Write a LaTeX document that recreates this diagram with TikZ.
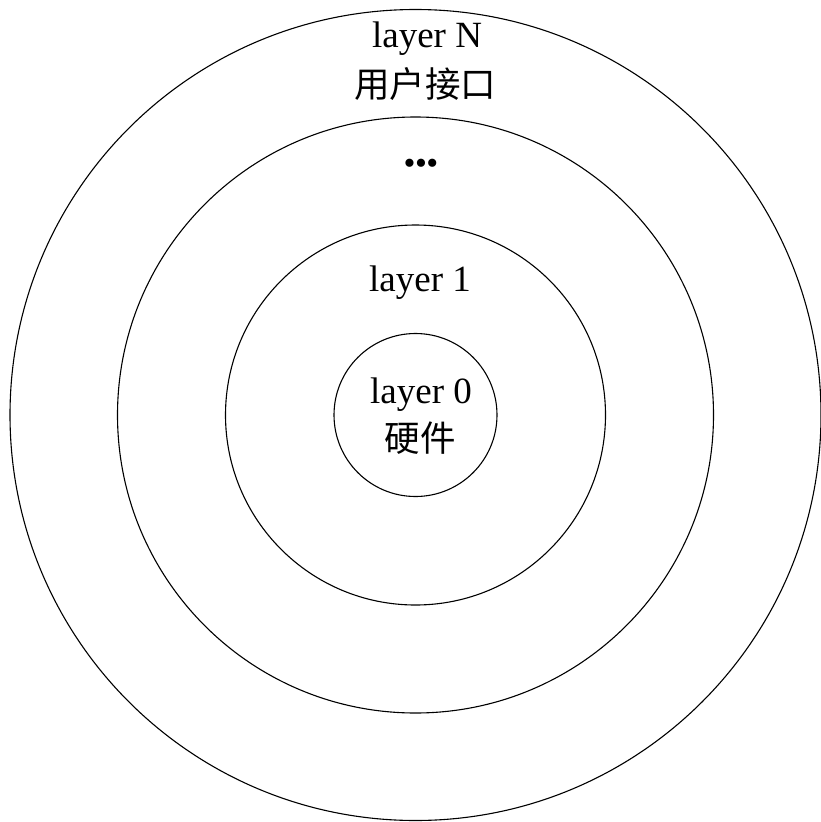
\documentclass[tikz,border=0pt]{standalone}
\usepackage{fontspec}
\setmainfont{Liberation Serif}
\newfontfamily\cjk{Noto Sans CJK SC}
\begin{document}
\begin{tikzpicture}[x=1pt,y=-1pt,
  ring/.style={draw=black,line width=1.1pt},
  lbl/.style={font=\fontsize{37}{40}\selectfont,inner sep=0pt,anchor=base},
  zh/.style={font=\fontsize{35.5}{40}\selectfont\cjk,inner sep=0pt,anchor=base}]
\useasboundingbox (0,0) rectangle (821,822);
\coordinate (c) at (415.5,415);
\draw[ring] (c) circle[radius=405.5];
\draw[ring] (c) circle[radius=298];
\draw[ring] (c) circle[radius=190];
\draw[ring] (c) circle[radius=81.5];
\node[lbl] (ln) at (427,47) {layer N};
\node[zh] (ui) at (425,97) {用户接口};
\node[lbl,font=\fontsize{34}{40}\selectfont] (dots) at (421,174) {•\hspace{-0.5pt}•\hspace{-0.5pt}•};
\node[lbl] (l1) at (420,291) {layer 1};
\node[lbl] (l0) at (421,403) {layer 0};
\node[zh] (hw) at (420,451) {硬件};
\end{tikzpicture}
\end{document}
